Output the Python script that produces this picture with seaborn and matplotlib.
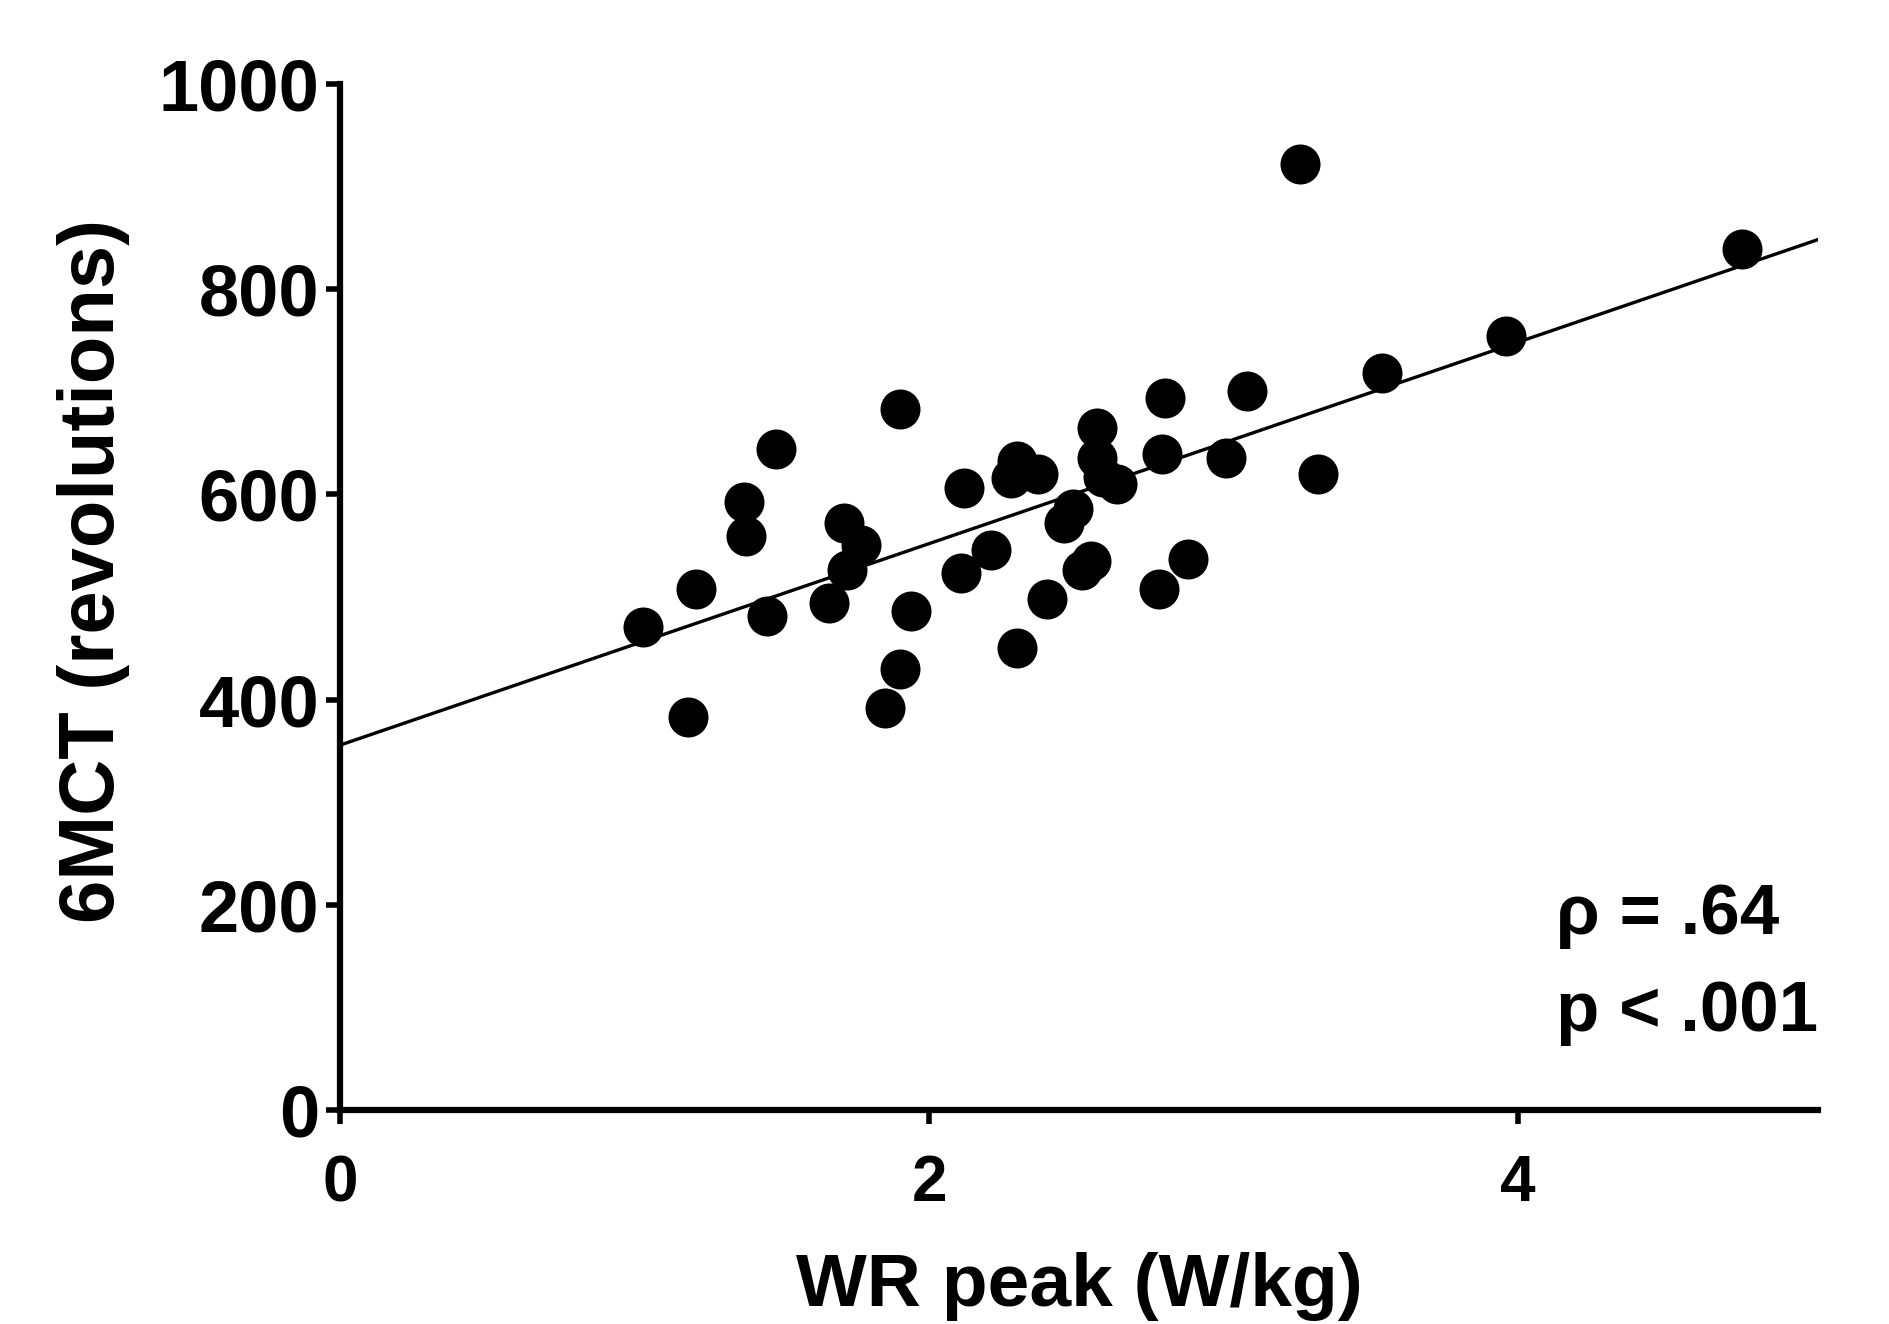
import matplotlib
matplotlib.use("Agg")
import matplotlib.pyplot as plt
import seaborn as sns
import numpy as np
import pandas as pd

# Data
wr_peak = [1.03, 1.18, 1.21, 1.37, 1.38, 1.45, 1.48, 1.66, 1.71, 1.72, 1.77,
           1.85, 1.90, 1.90, 1.94, 2.11, 2.12, 2.21, 2.28, 2.30, 2.30, 2.37,
           2.40, 2.46, 2.49, 2.52, 2.55, 2.57, 2.57, 2.59, 2.64, 2.78, 2.79,
           2.80, 2.88, 3.01, 3.08, 3.26, 3.32, 3.54, 3.96, 4.76]
mct6 = [471, 383, 508, 593, 559, 481, 644, 494, 572, 526, 551,
        392, 683, 430, 486, 523, 606, 546, 616, 633, 450, 620,
        498, 572, 586, 526, 535, 665, 635, 617, 610, 508, 639,
        694, 537, 635, 701, 922, 620, 718, 754, 839]

x_ticks = [0, 2, 4]
y_ticks = [0, 200, 400, 600, 800, 1000]
x_label = "WR peak (W/kg)"
y_label = "6MCT (revolutions)"
stats_lines = ["\u03c1 = .64", "p < .001"]

df = pd.DataFrame({"wr": wr_peak, "mct": mct6})

sns.set_style("ticks")
plt.rcParams["font.family"] = ["Liberation Sans", "DejaVu Sans"]
plt.rcParams["font.weight"] = "bold"
plt.rcParams["text.color"] = "black"
plt.rcParams["axes.labelcolor"] = "black"
plt.rcParams["xtick.color"] = "black"
plt.rcParams["ytick.color"] = "black"
plt.rcParams["xtick.labelcolor"] = "black"
plt.rcParams["ytick.labelcolor"] = "black"

fig = plt.figure(figsize=(18.9, 13.24), dpi=100)
ax = fig.add_axes([0.180, 0.1616, 0.782, 0.775])
ax.set_xlim(0, 5.02)
ax.set_ylim(0, 1000)

sns.regplot(data=df, x="wr", y="mct", ax=ax, ci=None, truncate=False,
            scatter_kws=dict(s=830, color="black", linewidths=0, alpha=1),
            line_kws=dict(color="black", lw=2.4))

ax.set_xlim(0, 5.02)
ax.set_ylim(0, 1000)
ax.set_xticks(x_ticks)
ax.set_yticks(y_ticks)
ax.set_xticklabels([str(t) for t in x_ticks], fontsize=46, fontweight="bold")
ax.set_yticklabels([str(t) for t in y_ticks], fontsize=52, fontweight="bold")
ax.tick_params(axis="both", width=4, length=10, color="black", labelcolor="black")
ax.tick_params(axis="x", pad=22)
ax.tick_params(axis="y", pad=5)

for side in ["top", "right"]:
    ax.spines[side].set_visible(False)
for side in ["left", "bottom"]:
    ax.spines[side].set_linewidth(4.5)
    ax.spines[side].set_color("black")

ax.set_xlabel(x_label, fontsize=54, fontweight="bold", color="black")
ax.xaxis.set_label_coords(0.5, -0.138)
ax.set_ylabel(y_label, fontsize=56, fontweight="bold", color="black")
ax.yaxis.set_label_coords(-0.142, 0.525)

ax.text(4.13, 172, stats_lines[0], fontsize=51, fontweight="bold",
        va="baseline", ha="left", color="black")
ax.text(4.13, 77, stats_lines[1], fontsize=51, fontweight="bold",
        va="baseline", ha="left", color="black")

fig.savefig("out.png", dpi=100, facecolor="white")
